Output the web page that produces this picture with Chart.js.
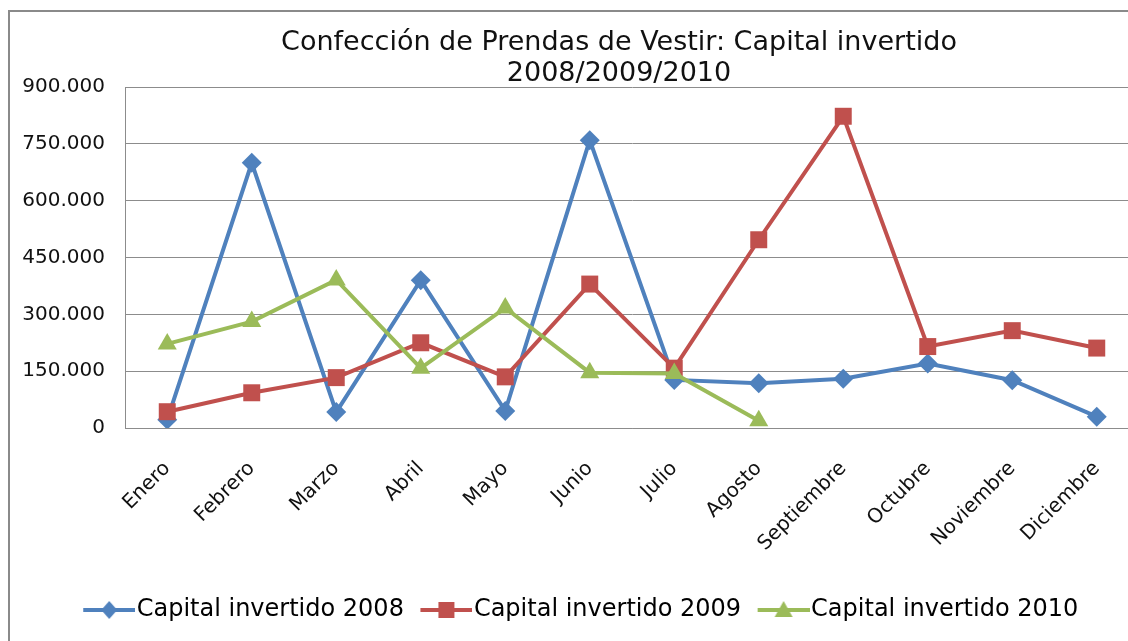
<!DOCTYPE html>
<html>
<head>
<meta charset="utf-8">
<script src="https://cdn.jsdelivr.net/npm/chart.js@4.4.1/dist/chart.umd.min.js"></script>
<style>
  html, body { margin: 0; padding: 0; background: #fff; overflow: hidden; }
  #frame { position: absolute; left: 8px; top: 10px; width: 1222px; height: 640px; border: 2px solid #8a8a8a; box-sizing: border-box; }
  #wrap { position: absolute; left: 8px; top: 10px; width: 1222px; height: 631px; }
</style>
</head>
<body>
<div id="frame"></div>
<div id="wrap"><canvas id="capital-chart"></canvas></div>
<script>
const meses = ["Enero", "Febrero", "Marzo", "Abril", "Mayo", "Junio", "Julio", "Agosto", "Septiembre", "Octubre", "Noviembre", "Diciembre"];

const capital2008 = [22000, 700000, 42000, 390000, 45000, 760000, 127000, 118000, 130000, 170000, 126000, 30000];
const capital2009 = [43000, 93000, 133000, 225000, 135000, 380000, 158000, 497000, 823000, 215000, 257000, 211000];
const capital2010 = [222000, 281000, 391000, 158000, 317000, 146000, 144000, 19000, null, null, null, null];

const yTicks = [0, 150000, 300000, 450000, 600000, 750000, 900000];

const azul = '#4F81BD';
const rojo = '#C0504D';
const verde = '#9BBB59';

function formatMiles(v) {
  return String(v).replace(/\B(?=(\d{3})+(?!\d))/g, '.');
}

// small canvas with line + marker for the legend (Excel style)
// chart.js centres it on the legend box, so the line starts at x=10
function symbolo(color, style) {
  const c = document.createElement('canvas');
  c.width = 62;
  c.height = 24;
  const g = c.getContext('2d');
  g.strokeStyle = color;
  g.fillStyle = color;
  g.lineWidth = 4;
  g.beginPath();
  g.moveTo(10, 12);
  g.lineTo(62, 12);
  g.stroke();
  const cx = 36;
  g.beginPath();
  if (style === 'rectRot') {
    g.moveTo(cx, 3); g.lineTo(cx + 8, 12); g.lineTo(cx, 21); g.lineTo(cx - 8, 12);
  } else if (style === 'rect') {
    g.rect(cx - 8, 4, 16, 16);
  } else {
    g.moveTo(cx, 3); g.lineTo(cx + 9, 19); g.lineTo(cx - 9, 19);
  }
  g.closePath();
  g.fill();
  return c;
}

const series = [
  { label: 'Capital invertido 2008', data: capital2008, color: azul, style: 'rectRot', radius: 10, order: 3 },
  { label: 'Capital invertido 2009', data: capital2009, color: rojo, style: 'rect', radius: 12, order: 2 },
  { label: 'Capital invertido 2010', data: capital2010, color: verde, style: 'triangle', radius: 11, order: 1 },
];

const data = {
  labels: meses,
  datasets: series.map(s => ({
    label: s.label,
    data: s.data,
    borderColor: s.color,
    backgroundColor: s.color,
    borderWidth: 4,
    pointStyle: s.style,
    pointRadius: s.radius,
    pointBorderWidth: 0,
    pointBackgroundColor: s.color,
    order: s.order,
    tension: 0,
  }))
};

// title in the original is centred on the whole (cropped) chart, not the legend
const moverTitulo = {
  id: 'moverTitulo',
  afterLayout(chart) {
    chart.titleBlock.left += 38;
    chart.titleBlock.right += 38;
  }
};

const config = {
  type: 'line',
  data: data,
  plugins: [moverTitulo],
  options: {
    responsive: true,
    maintainAspectRatio: false,
    animation: false,
    layout: { padding: { left: 15, right: 91, top: 0, bottom: 9 } },
    scales: {
      x: {
        offset: true,
        grid: { display: false },
        border: { color: '#8c8c8c' },
        afterFit: (scale) => { scale.height = 153; },
        ticks: {
          maxRotation: 45,
          minRotation: 45,
          autoSkip: false,
          color: '#111',
          padding: 21,
          font: { family: 'DejaVu Sans', size: 20 }
        }
      },
      y: {
        min: 0,
        max: 900000,
        afterBuildTicks: (scale) => { scale.ticks = yTicks.map(v => ({ value: v })); },
        afterFit: (scale) => { scale.width = 102; },
        grid: { color: '#8c8c8c', drawTicks: false },
        border: { color: '#8c8c8c' },
        ticks: {
          color: '#111',
          padding: 20,
          font: { family: 'DejaVu Sans', size: 20 },
          callback: (v) => formatMiles(v)
        }
      }
    },
    plugins: {
      title: {
        display: true,
        text: ['Confección de Prendas de Vestir: Capital invertido', '2008/2009/2010'],
        color: '#111',
        font: { family: 'DejaVu Sans', size: 27, weight: 'normal', lineHeight: 1.15 },
        padding: { top: 17, bottom: -2 }
      },
      legend: {
        position: 'bottom',
        labels: {
          usePointStyle: true,
          pointStyleWidth: 41,
          padding: 17,
          color: '#111',
          font: { family: 'DejaVu Sans', size: 24 },
          generateLabels: () => series.map((s, i) => ({
            text: s.label,
            datasetIndex: i,
            pointStyle: symbolo(s.color, s.style),
            fillStyle: s.color,
            strokeStyle: s.color,
            lineWidth: 0,
            hidden: false
          }))
        }
      },
      tooltip: { enabled: false }
    }
  }
};

new Chart(document.getElementById('capital-chart'), config);
</script>
</body>
</html>
